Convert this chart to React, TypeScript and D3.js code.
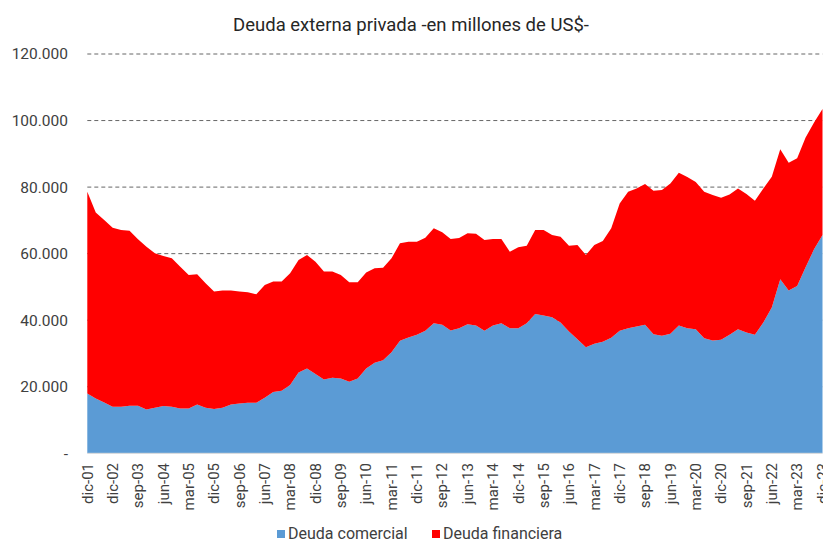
import React from "react";
import * as d3 from "d3";

const quarters = [
  "dic-01","jun-02","sep-02","dic-02",
  "mar-03","jun-03","sep-03","dic-03","mar-04","jun-04","sep-04","dic-04",
  "mar-05","jun-05","sep-05","dic-05","mar-06","jun-06","sep-06","dic-06",
  "mar-07","jun-07","sep-07","dic-07","mar-08","jun-08","sep-08","dic-08",
  "mar-09","jun-09","sep-09","dic-09","mar-10","jun-10","sep-10","dic-10",
  "mar-11","jun-11","sep-11","dic-11","mar-12","jun-12","sep-12","dic-12",
  "mar-13","jun-13","sep-13","dic-13","mar-14","jun-14","sep-14","dic-14",
  "mar-15","jun-15","sep-15","dic-15","mar-16","jun-16","sep-16","dic-16",
  "mar-17","jun-17","sep-17","dic-17","mar-18","jun-18","sep-18","dic-18",
  "mar-19","jun-19","sep-19","dic-19","mar-20","jun-20","sep-20","dic-20",
  "mar-21","jun-21","sep-21","dic-21","mar-22","jun-22","sep-22","dic-22",
  "mar-23","jun-23","sep-23","dic-23",
];

const deudaComercial = [
  18.0,16.5,15.3,14.0,14.0,14.3,14.3,13.2,13.7,14.2,14.0,13.5,13.5,14.7,13.7,13.3,
  13.7,14.7,15.0,15.2,15.2,16.7,18.4,18.8,20.5,24.3,25.5,23.8,22.2,22.7,22.5,21.5,
  22.5,25.5,27.2,28.0,30.4,33.8,34.8,35.6,36.8,39.1,38.6,36.9,37.6,38.8,38.4,36.8,
  38.4,39.1,37.6,37.6,39.1,41.9,41.4,40.9,39.3,36.6,34.3,31.9,32.9,33.5,34.7,36.8,
  37.6,38.1,38.6,35.8,35.3,35.9,38.4,37.6,37.3,34.6,33.9,34.1,35.6,37.3,36.3,35.6,
  39.3,43.8,52.3,48.9,50.3,55.9,61.3,65.6,
].map((v) => v * 1000);

const deudaFinanciera = [
  60.6,55.9,54.8,53.8,53.1,52.6,50.0,48.9,46.4,45.1,44.6,42.6,40.1,39.1,37.4,35.3,
  35.2,34.2,33.6,33.2,32.6,33.9,33.2,32.8,33.6,33.8,34.1,33.8,32.4,31.9,31.1,29.9,
  28.9,28.8,28.4,27.8,28.2,29.3,28.8,28.0,28.0,28.5,27.8,27.5,27.1,27.3,27.6,27.3,
  26.0,25.3,23.0,24.3,23.3,25.2,25.7,24.7,25.8,25.8,28.3,27.7,29.7,30.3,32.9,38.3,
  41.0,41.5,42.3,43.1,43.8,45.2,45.9,45.4,44.2,44.0,43.7,42.7,42.2,42.3,41.6,40.3,
  40.3,39.3,39.1,38.4,38.4,39.0,38.1,37.9,
].map((v) => v * 1000);

const yTicks = [0, 20000, 40000, 60000, 80000, 100000, 120000];
const seriesNames = ["Deuda comercial", "Deuda financiera"];
const seriesColors = ["#5B9BD5", "#FF0000"];

const W = 823;
const H = 543;
const FONT = "Roboto, 'Noto Sans', sans-serif";
const TXT = "#404040";

export default function App() {
  const x = d3.scalePoint<number>().domain(quarters.map((_, i) => i)).range([87.3, 822.5]);
  const y = d3.scaleLinear().domain([0, 120000]).range([453.3, 54]);

  const rows = quarters.map((q, i) => ({ i, com: deudaComercial[i], fin: deudaFinanciera[i] }));
  const stack = d3.stack<any>().keys(["com", "fin"])(rows);
  const area = d3
    .area<any>()
    .x((d) => x(d.data.i) as number)
    .y0((d) => y(d[0]))
    .y1((d) => y(d[1]));

  const fmt = (v: number) => (v === 0 ? "-" : d3.format(",")(v).replace(/,/g, "."));

  return (
    <svg width={W} height={H} style={{ position: "absolute", left: 0, top: 0, background: "#fff" }} fontFamily={FONT}>
      <text x={411} y={31} textAnchor="middle" fontSize={18.5} fill="#262626">
        Deuda externa privada -en millones de US$-
      </text>
      {yTicks.map((t) => (
        <g key={t}>
          {t > 0 && (
            <line x1={87.3} x2={822.5} y1={y(t)} y2={y(t)} stroke="#666" strokeWidth={1} strokeDasharray="4,3" />
          )}
          <text x={68} y={y(t)} dy="0.35em" textAnchor="end" fontSize={15.5} fill={TXT}>
            {fmt(t)}
          </text>
        </g>
      ))}
      {stack.map((s, k) => (
        <path key={k} d={area(s) as string} fill={seriesColors[k]} />
      ))}
      <line x1={87.3} x2={822.5} y1={y(0)} y2={y(0)} stroke="#d9d9d9" strokeWidth={1} />
      {quarters.map((q, i) =>
        i % 3 === 0 ? (
          <text
            key={q}
            transform={`translate(${x(i)},${463}) rotate(-90)`}
            dy="0.35em"
            textAnchor="end"
            fontSize={15}
            fill={TXT}
          >
            {q}
          </text>
        ) : null
      )}
      {seriesNames.map((n, k) => {
        const lx = k === 0 ? 277 : 432;
        return (
          <g key={n}>
            <rect x={lx} y={530} width={8} height={8} fill={seriesColors[k]} />
            <text x={lx + 11} y={538.5} fontSize={16} fill={TXT}>
              {n}
            </text>
          </g>
        );
      })}
    </svg>
  );
}
